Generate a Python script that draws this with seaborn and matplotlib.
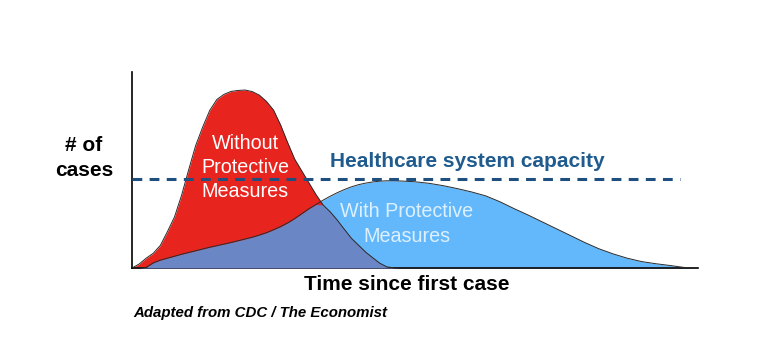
import numpy as np
import pandas as pd
import matplotlib
matplotlib.use("Agg")
import matplotlib.pyplot as plt
import seaborn as sns

# time since first case (arbitrary units) and number of cases for both scenarios
days = [0, 1.25, 2.5, 3.75, 5, 6.25, 7.5, 8.75, 10, 11.25, 12.5, 13.75, 15,
        16.25, 17.5, 18.75, 20, 21.25, 22.5, 23.75, 25, 26.25, 27.5, 28.75,
        30, 31.25, 32.5, 33.75, 35, 36.25, 37.5, 38.75, 40, 41.25, 42.5,
        43.75, 45, 46.25, 47.5, 50, 52.5, 55, 57.5, 60, 62.5, 65, 67.5, 70,
        72.5, 75, 77.5, 80, 82.5, 85, 87.5, 90, 92.5, 95, 97.5, 100]
without_measures = [0, 2.0, 5.0, 7.5, 11.5, 18.5, 26, 37, 50, 62.5, 72, 80.5,
                    86, 88.6, 90.1, 90.6, 90.8, 90, 88.2, 85, 80.6, 73, 64,
                    55.5, 49.5, 43.5, 37.5, 32.2, 28.7, 24.5, 19.8, 15.2, 11.7,
                    8.2, 5.3, 2.5, 0.6, 0.1, 0, 0, 0, 0, 0, 0, 0, 0, 0, 0, 0,
                    0, 0, 0, 0, 0, 0, 0, 0, 0, 0, 0]
with_measures = [0, 0, 0.3, 2.6, 4.0, 5.0, 6.0, 7.0, 7.9, 8.8, 9.7, 10.6, 11.4,
                 12.2, 13.0, 13.9, 14.8, 15.7, 16.8, 18.0, 19.5, 21.1, 23.0,
                 25.2, 27.7, 30.2, 32.4, 34.6, 36.6, 38.4, 40.0, 41.4, 42.5,
                 43.3, 43.9, 44.3, 44.5, 44.5, 44.4, 44.0, 43.2, 42.0, 40.5,
                 38.8, 36.8, 33.8, 30.3, 27.0, 23.5, 20.0, 16.5, 13.0, 9.8,
                 7.2, 5.0, 3.3, 2.2, 1.3, 0.3, 0]
capacity = 45.4

df = pd.DataFrame({"day": days, "without": without_measures, "with": with_measures})

sns.set_style("white")
plt.rcParams["font.family"] = ["Liberation Sans", "DejaVu Sans"]
plt.rcParams["text.color"] = "black"

fig = plt.figure(figsize=(7.66, 3.63), dpi=100)
ax = fig.add_axes([132 / 766, (363 - 268) / 363, 566 / 766, 196 / 363])

red = "#E8241F"
blue = "#62B8FB"
overlap = "#6B86C4"

ax.fill_between(df["day"], 0, df["with"], color=blue, lw=0, zorder=1)
ax.fill_between(df["day"], 0, df["without"], color=red, lw=0, zorder=2)
ax.fill_between(df["day"], 0, np.minimum(df["with"], df["without"]),
                color=overlap, lw=0, zorder=3)
sns.lineplot(data=df, x="day", y="with", color="#2a2a2a", lw=0.7, ax=ax, zorder=4)
sns.lineplot(data=df, x="day", y="without", color="#2a2a2a", lw=0.7, ax=ax, zorder=4)

ax.axhline(capacity, xmin=0, xmax=0.968, color="#1F4F7E", lw=2.2,
           linestyle=(0, (3.2, 2.4)), zorder=5)

ax.set_xlim(0, 100)
ax.set_ylim(0, 100)
ax.set_xticks([])
ax.set_yticks([])
ax.set_xlabel("")
ax.set_ylabel("")
for side in ["top", "right"]:
    ax.spines[side].set_visible(False)
for side in ["left", "bottom"]:
    ax.spines[side].set_color("black")
    ax.spines[side].set_linewidth(1.2)

ax.text(35, 54.2, "Healthcare system capacity", color="#1F5B8E",
        fontsize=15, fontweight="bold", ha="left", va="center", zorder=6)
ax.text(20.0, 51.5, "Without\nProtective\nMeasures", color="white", fontsize=14.2,
        ha="center", va="center", linespacing=1.33, zorder=6)
ax.text(48.5, 22.2, "With Protective\nMeasures", color="#DDF0FF", fontsize=14.2,
        ha="center", va="center", linespacing=1.4, zorder=6)

fig.text(84 / 766, 1 - 158 / 363, "# of\ncases", fontsize=15, fontweight="bold",
         ha="center", va="center", linespacing=1.45)
fig.text(407 / 766, 1 - 285 / 363, "Time since first case", fontsize=15,
         fontweight="bold", ha="center", va="center")
fig.text(133 / 766, 1 - 313 / 363, "Adapted from CDC / The Economist", fontsize=10.8,
         fontweight="bold", fontstyle="italic", ha="left", va="center")

fig.savefig("out.png", dpi=100, facecolor="white")
